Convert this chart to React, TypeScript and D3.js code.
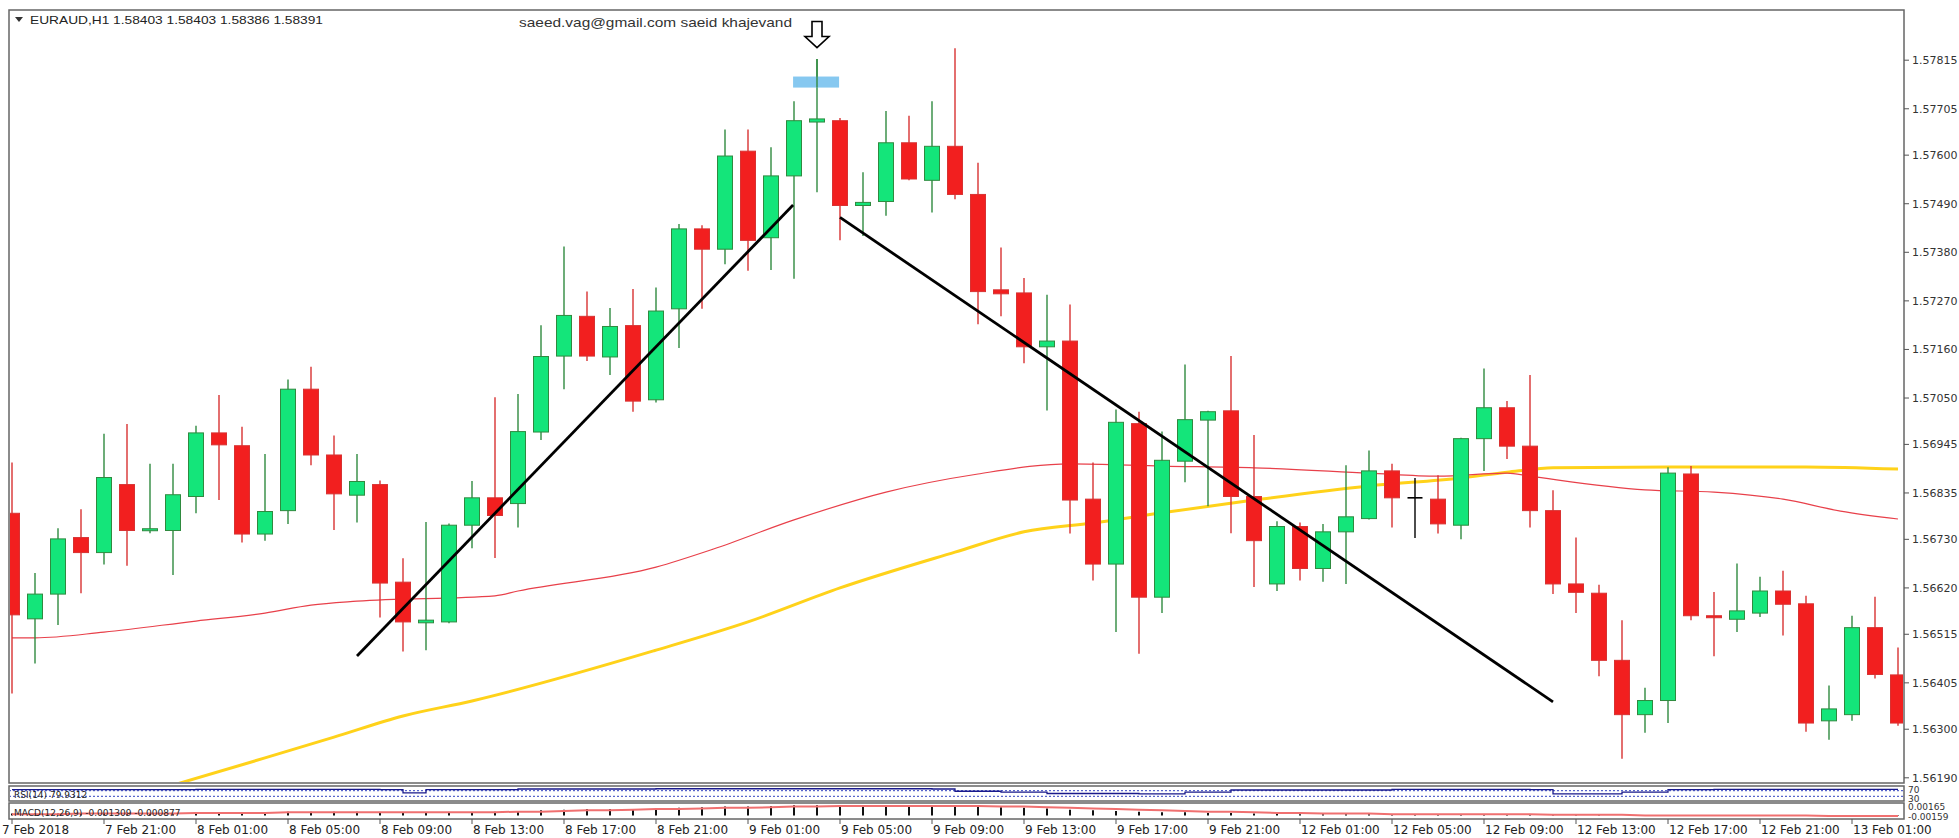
import React, { useEffect } from "react";
import * as d3 from "d3";

const W = 1959;
const H = 838;

// ---- candle data (EURAUD H1) ----
const opens = [1.56789,1.56550,1.56606,1.56734,1.56700,1.56854,1.56750,1.56750,1.56827,1.56971,1.56942,1.56742,1.56795,1.57070,1.56921,1.56830,1.56854,1.56633,1.56541,1.56543,1.56762,1.56824,1.56811,1.56973,1.57145,1.57235,1.57143,1.57214,1.57046,1.57252,1.57433,1.57387,1.57609,1.57413,1.57553,1.57675,1.57678,1.57486,1.57495,1.57628,1.57543,1.57620,1.57511,1.57295,1.57288,1.57166,1.57179,1.56821,1.56674,1.56992,1.56599,1.56907,1.57000,1.57021,1.56827,1.56629,1.56759,1.56664,1.56747,1.56777,1.56885,1.56824,1.56821,1.56762,1.56958,1.57028,1.56941,1.56795,1.56629,1.56608,1.56456,1.56333,1.56365,1.56878,1.56557,1.56549,1.56563,1.56613,1.56584,1.56319,1.56333,1.56530,1.56423];
const highs = [1.56904,1.56654,1.56755,1.56798,1.56969,1.56991,1.56901,1.56901,1.56987,1.57057,1.56985,1.56923,1.57092,1.57121,1.56965,1.56923,1.56863,1.56687,1.56769,1.56766,1.56862,1.57052,1.57059,1.57215,1.57393,1.57291,1.57254,1.57297,1.57300,1.57444,1.57441,1.57658,1.57658,1.57618,1.57722,1.57818,1.57684,1.57561,1.57700,1.57689,1.57722,1.57842,1.57583,1.57391,1.57322,1.57284,1.57262,1.56904,1.57024,1.57019,1.56974,1.57126,1.57021,1.57145,1.56966,1.56771,1.56768,1.56765,1.56898,1.56931,1.56901,1.56869,1.56875,1.56960,1.57117,1.57043,1.57102,1.56841,1.56734,1.56627,1.56547,1.56394,1.56893,1.56896,1.56611,1.56675,1.56645,1.56659,1.56602,1.56399,1.56557,1.56600,1.56485];
const lows = [1.56381,1.56449,1.56536,1.56608,1.56673,1.56670,1.56744,1.56649,1.56789,1.56819,1.56723,1.56727,1.56765,1.56898,1.56751,1.56768,1.56553,1.56476,1.56479,1.56540,1.56710,1.56688,1.56757,1.56955,1.57070,1.57134,1.57102,1.57019,1.57040,1.57163,1.57252,1.57353,1.57338,1.57340,1.57320,1.57516,1.57407,1.57417,1.57463,1.57543,1.57470,1.57500,1.57217,1.57235,1.57129,1.57022,1.56743,1.56637,1.56520,1.56471,1.56563,1.56859,1.56805,1.56744,1.56622,1.56613,1.56637,1.56634,1.56629,1.56775,1.56757,1.56733,1.56743,1.56730,1.56885,1.56912,1.56757,1.56606,1.56563,1.56420,1.56233,1.56292,1.56314,1.56547,1.56465,1.56520,1.56554,1.56512,1.56294,1.56276,1.56319,1.56415,1.56308];
const closes = [1.56559,1.56606,1.56731,1.56700,1.56870,1.56750,1.56754,1.56831,1.56971,1.56944,1.56742,1.56793,1.57070,1.56921,1.56833,1.56861,1.56631,1.56543,1.56547,1.56762,1.56824,1.56784,1.56974,1.57144,1.57237,1.57145,1.57212,1.57043,1.57247,1.57433,1.57387,1.57598,1.57407,1.57553,1.57678,1.57682,1.57486,1.57493,1.57628,1.57546,1.57620,1.57511,1.57291,1.57286,1.57166,1.57179,1.56819,1.56674,1.56995,1.56599,1.56909,1.57001,1.57019,1.56827,1.56727,1.56759,1.56664,1.56747,1.56781,1.56885,1.56824,1.56824,1.56765,1.56958,1.57028,1.56941,1.56795,1.56629,1.56610,1.56456,1.56333,1.56365,1.56880,1.56557,1.56553,1.56568,1.56613,1.56583,1.56314,1.56346,1.56530,1.56424,1.56314];

// ---- moving averages (sampled bar index -> price) ----
const maRedIdx = [0, 1, 4, 8, 11, 13, 15, 21, 22, 28, 30.5, 34, 38, 42, 46, 50, 54, 59, 62, 65, 66, 71, 74, 77, 79.5, 82];
const maRedVal = [1.56507,1.56507,1.56520,1.56545,1.56563,1.56581,1.56590,1.56602,1.56613,1.56667,1.56708,1.56774,1.56837,1.56878,1.56901,1.56896,1.56892,1.56880,1.56873,1.56880,1.56873,1.56842,1.56837,1.56821,1.56794,1.56776];
const maYellowIdx = [6, 11, 14, 17, 20, 28, 32, 36, 41, 44, 47, 50, 54, 59, 63, 65, 67, 72, 78, 82];
const maYellowVal = [1.56158,1.56235,1.56282,1.56330,1.56364,1.56479,1.56543,1.56620,1.56701,1.56747,1.56767,1.56790,1.56819,1.56851,1.56869,1.56882,1.56892,1.56894,1.56894,1.56889];

// ---- drawn objects ----
const trend1 = [[15.0, 1.56466], [33.96, 1.57487]];
const trend2 = [[36.0, 1.57459], [67.0, 1.56362]];
const boxIdx = [33.96, 35.96];
const boxPrice = [1.57778, 1.57753];
const arrowIdx = 35;
const arrowPrice = 1.57898;

// ---- axes ----
const priceTicks = ["1.57815","1.57705","1.57600","1.57490","1.57380","1.57270","1.57160","1.57050","1.56945","1.56835","1.56730","1.56620","1.56515","1.56405","1.56300","1.56190"];
const timeLabels = ["7 Feb 2018","7 Feb 21:00","8 Feb 01:00","8 Feb 05:00","8 Feb 09:00","8 Feb 13:00","8 Feb 17:00","8 Feb 21:00","9 Feb 01:00","9 Feb 05:00","9 Feb 09:00","9 Feb 13:00","9 Feb 17:00","9 Feb 21:00","12 Feb 01:00","12 Feb 05:00","12 Feb 09:00","12 Feb 13:00","12 Feb 17:00","12 Feb 21:00","13 Feb 01:00"];
const timeLabelIdx = [0,4,8,12,16,20,24,28,32,36,40,44,48,52,56,60,64,68,72,76,80];

// ---- sub-window indicators ----
const rsiIdx = [0, 8, 16, 17, 18, 22, 28, 40, 41, 43, 45, 49, 51, 53, 60, 66, 67, 70, 72, 74, 82];
const rsiVal = [78, 80, 78, 55, 78, 82, 84, 82, 66, 60, 50, 48, 60, 75, 80, 78, 48, 60, 78, 80, 80];
const macdHist = [0.3,0.3,0.3,0.3,0.4,0.4,0.4,0.4,0.5,0.5,0.5,0.5,0.6,0.6,0.6,0.6,0.5,0.5,0.5,0.5,0.5,0.6,0.7,0.8,0.9,1.0,1.0,1.0,1.1,1.2,1.3,1.4,1.4,1.5,1.6,1.6,1.6,1.6,1.6,1.6,1.6,1.5,1.4,1.3,1.2,1.1,0.9,0.8,0.7,0.6,0.5,0.5,0.4,0.4,0.3,0.3,0.2,0.2,0.2,0.2,0.2,0.2,0.2,0.2,0.2,0.2,0.2,0.1,0.1,0.1,0.0,-0.1,0.0,0.0,0.0,0.0,0.0,0.0,-0.1,-0.1,-0.1,-0.1,-0.1];
const macdSignal = [0.2,0.2,0.2,0.3,0.3,0.3,0.3,0.3,0.4,0.4,0.4,0.4,0.5,0.5,0.5,0.5,0.5,0.5,0.5,0.5,0.5,0.5,0.6,0.6,0.7,0.8,0.8,0.9,1.0,1.0,1.1,1.2,1.2,1.3,1.4,1.4,1.5,1.5,1.5,1.5,1.5,1.5,1.5,1.4,1.4,1.3,1.2,1.1,1.0,0.9,0.8,0.7,0.6,0.6,0.5,0.4,0.4,0.3,0.3,0.3,0.2,0.2,0.2,0.2,0.2,0.2,0.2,0.1,0.1,0.1,0.1,0.0,0.0,0.0,0.0,0.0,0.0,0.0,0.0,-0.1,-0.1,-0.1,-0.1];

const MAIN = { x0: 9, x1: 1904, y0: 10, y1: 783 };
const P1 = { y0: 786, y1: 801 };
const P2 = { y0: 803, y1: 819 };

const GREEN_FILL = "#14e57a";
const GREEN_LINE = "#2f8a3f";
const RED_FILL = "#f21f1f";
const RED_LINE = "#d83232";

export default function App() {
  useEffect(() => {
    document.body.style.margin = "0";
  }, []);

  const n = closes.length;
  const x = d3.scaleLinear().domain([0, n - 1]).range([12, 1898]);
  const y = d3.scaleLinear().domain([1.5619, 1.57815]).range([777.8, 60.2]);
  const bodyW = 15;

  const lineRed = d3.line<number>().x((_, i) => x(maRedIdx[i])).y((v) => y(v)).curve(d3.curveMonotoneX);
  const lineYellow = d3.line<number>().x((_, i) => x(maYellowIdx[i])).y((v) => y(v)).curve(d3.curveMonotoneX);

  const yRsi = d3.scaleLinear().domain([0, 100]).range([P1.y1 - 0.5, P1.y0 + 0.5]);
  const rsiLine = d3.line<number>().x((_, i) => x(rsiIdx[i])).y((v) => yRsi(v)).curve(d3.curveStepAfter);
  const yMacd = d3.scaleLinear().domain([-0.4, 1.8]).range([P2.y1 - 1, P2.y0 + 1]);
  const sigLine = d3.line<number>().x((_, i) => x(i)).y((v) => yMacd(v));

  const ax = MAIN.x1;

  return (
    <svg
      width={W}
      height={H}
      viewBox={`0 0 ${W} ${H}`}
      style={{ position: "absolute", left: 0, top: 0, background: "#fff", display: "block" }}
      fontFamily="'DejaVu Sans', Verdana, sans-serif"
    >
      <defs>
        <clipPath id="mainClip">
          <rect x={MAIN.x0 + 1} y={MAIN.y0 + 1} width={MAIN.x1 - MAIN.x0 - 2} height={MAIN.y1 - MAIN.y0 - 2} />
        </clipPath>
        <clipPath id="p1Clip">
          <rect x={MAIN.x0 + 1} y={P1.y0} width={MAIN.x1 - MAIN.x0 - 2} height={P1.y1 - P1.y0} />
        </clipPath>
        <clipPath id="p2Clip">
          <rect x={MAIN.x0 + 1} y={P2.y0} width={MAIN.x1 - MAIN.x0 - 2} height={P2.y1 - P2.y0} />
        </clipPath>
      </defs>
      <rect x={0} y={0} width={W} height={H} fill="#fff" />

      {/* main chart */}
      <g clipPath="url(#mainClip)">
        <path d={lineYellow(maYellowVal) || ""} fill="none" stroke="#ffd21a" strokeWidth={3} />
        <path d={lineRed(maRedVal) || ""} fill="none" stroke="#e8404a" strokeWidth={1.2} />
        {closes.map((c, i) => {
          const o = opens[i];
          const bull = c > o;
          const flat = c === o;
          const fill = flat ? "#000" : bull ? GREEN_FILL : RED_FILL;
          const line = flat ? "#000" : bull ? GREEN_LINE : RED_LINE;
          const top = y(Math.max(o, c));
          const bot = y(Math.min(o, c));
          const cx = x(i);
          const h = Math.max(bot - top, 2);
          return (
            <g key={i}>
              <line x1={cx} x2={cx} y1={y(highs[i])} y2={y(lows[i])} stroke={line} strokeWidth={1.4} />
              {flat ? (
                <line x1={cx - bodyW / 2} x2={cx + bodyW / 2} y1={top} y2={top} stroke="#000" strokeWidth={1.6} />
              ) : (
                <rect x={cx - bodyW / 2} y={top} width={bodyW} height={h} fill={fill} stroke={line} strokeWidth={1} />
              )}
            </g>
          );
        })}
        <line x1={x(trend1[0][0])} y1={y(trend1[0][1])} x2={x(trend1[1][0])} y2={y(trend1[1][1])} stroke="#000" strokeWidth={2.8} />
        <line x1={x(trend2[0][0])} y1={y(trend2[0][1])} x2={x(trend2[1][0])} y2={y(trend2[1][1])} stroke="#000" strokeWidth={2.8} />
        <rect x={x(boxIdx[0])} y={y(boxPrice[0])} width={x(boxIdx[1]) - x(boxIdx[0])} height={y(boxPrice[1]) - y(boxPrice[0])} fill="#86c8f0" />
        <line x1={x(arrowIdx)} x2={x(arrowIdx)} y1={y(highs[arrowIdx])} y2={y(boxPrice[1])} stroke={GREEN_LINE} strokeWidth={1.4} />
        {(() => {
          const ax0 = x(arrowIdx);
          const ay = y(arrowPrice);
          const d = `M${ax0 - 5},${ay - 2} L${ax0 + 5},${ay - 2} L${ax0 + 5},${ay + 13} L${ax0 + 12},${ay + 13} L${ax0},${ay + 24} L${ax0 - 12},${ay + 13} L${ax0 - 5},${ay + 13} Z`;
          return <path d={d} fill="#fff" stroke="#000" strokeWidth={1.6} />;
        })()}
      </g>

      {/* header texts */}
      <path d={`M15,17 L23,17 L19,22 Z`} fill="#333" />
      <text x={30} y={24} fontSize={11} fill="#222" textLength={293} lengthAdjust="spacingAndGlyphs" fontFamily="'Liberation Sans', Arial, sans-serif">EURAUD,H1  1.58403 1.58403 1.58386 1.58391</text>
      <text x={519} y={27} fontSize={13} fill="#333" textLength={273} lengthAdjust="spacingAndGlyphs" fontFamily="'Liberation Sans', Arial, sans-serif">saeed.vag@gmail.com saeid khajevand</text>

      {/* sub-window 1 (RSI-like) */}
      <g clipPath="url(#p1Clip)">
        <line x1={MAIN.x0} x2={ax} y1={yRsi(70)} y2={yRsi(70)} stroke="#3040c0" strokeWidth={1} strokeDasharray="2,2" />
        <line x1={MAIN.x0} x2={ax} y1={yRsi(30)} y2={yRsi(30)} stroke="#3040c0" strokeWidth={1} strokeDasharray="2,2" />
        <path d={rsiLine(rsiVal) || ""} fill="none" stroke="#1a1a8c" strokeWidth={1.3} />
      </g>
      <text x={14} y={P1.y1 - 3} fontSize={9} fill="#222">RSI(14) 79.9312</text>

      {/* sub-window 2 (MACD) */}
      <g clipPath="url(#p2Clip)">
        {macdHist.map((v, i) => (
          <line key={i} x1={x(i)} x2={x(i)} y1={yMacd(0)} y2={yMacd(v)} stroke="#111" strokeWidth={2} />
        ))}
        <path d={sigLine(macdSignal) || ""} fill="none" stroke="#f07070" strokeWidth={2} />
      </g>
      <text x={14} y={P2.y1 - 3} fontSize={9} fill="#222">MACD(12,26,9) -0.001309 -0.000877</text>

      {/* frames */}
      <rect x={MAIN.x0} y={MAIN.y0} width={MAIN.x1 - MAIN.x0} height={MAIN.y1 - MAIN.y0} fill="none" stroke="#666" strokeWidth={1.5} />
      <rect x={MAIN.x0} y={P1.y0} width={MAIN.x1 - MAIN.x0} height={P1.y1 - P1.y0} fill="none" stroke="#666" strokeWidth={1.5} />
      <rect x={MAIN.x0} y={P2.y0} width={MAIN.x1 - MAIN.x0} height={P2.y1 - P2.y0} fill="none" stroke="#666" strokeWidth={1.5} />

      {/* price axis */}
      {priceTicks.map((t) => {
        const yy = y(parseFloat(t));
        return (
          <g key={t}>
            <line x1={ax} x2={ax + 5} y1={yy} y2={yy} stroke="#555" />
            <text x={ax + 8} y={yy + 4} fontSize={11} fill="#333">{t}</text>
          </g>
        );
      })}
      <text x={ax + 4} y={P1.y0 + 7} fontSize={9} fill="#333">70</text>
      <text x={ax + 4} y={P1.y1 + 1} fontSize={9} fill="#333">30</text>
      <text x={ax + 4} y={P2.y0 + 7} fontSize={9} fill="#333">0.00165</text>
      <text x={ax + 4} y={P2.y1 + 1} fontSize={9} fill="#333">-0.00159</text>

      {/* time axis */}
      {timeLabels.map((t, k) => {
        const xx = x(timeLabelIdx[k]);
        return (
          <g key={t}>
            <line x1={xx} x2={xx} y1={P2.y1} y2={P2.y1 + 5} stroke="#555" />
            <text x={k === 0 ? 2 : xx + 1} y={H - 4} fontSize={12} fill="#222">{t}</text>
          </g>
        );
      })}
    </svg>
  );
}
